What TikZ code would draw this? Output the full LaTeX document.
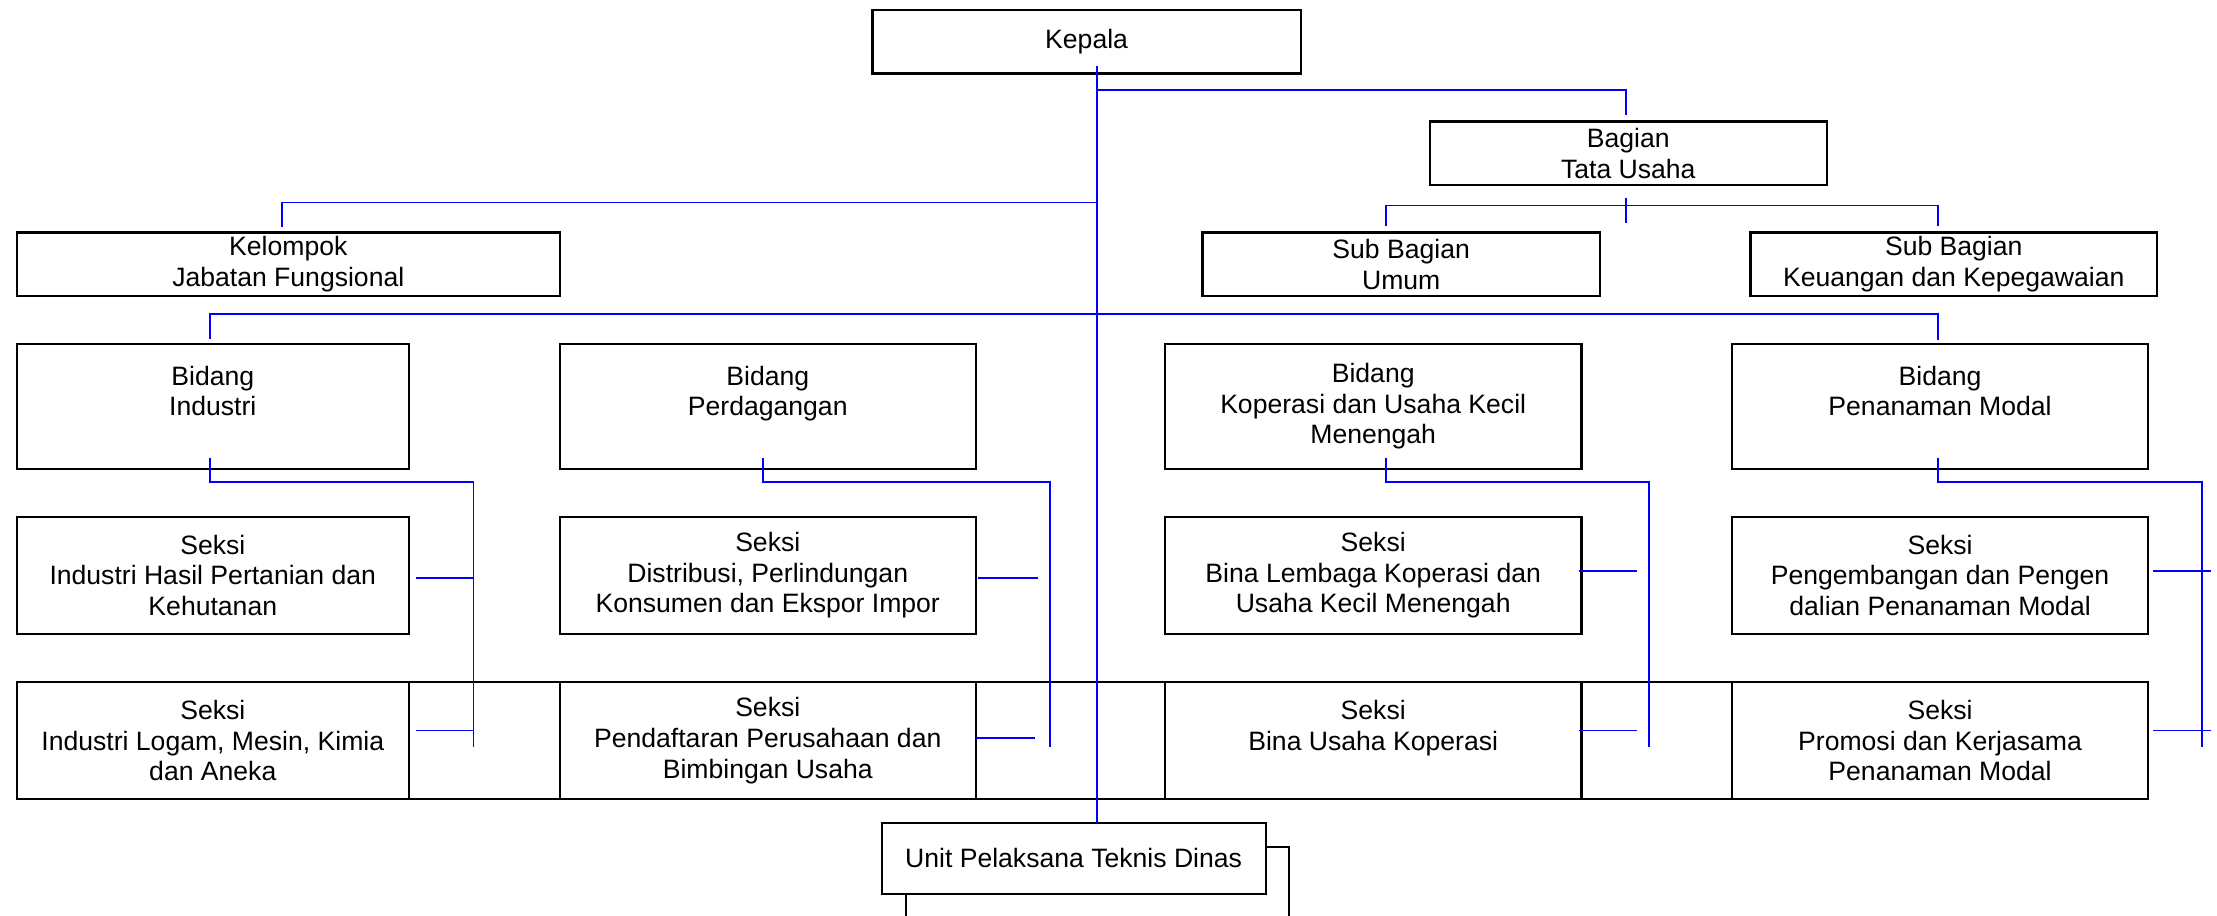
\documentclass[tikz,border=0pt]{standalone}
\usepackage{fontspec}
\setmainfont{Liberation Sans}
\begin{document}
\begin{tikzpicture}[x=1pt,y=-1pt,
  box/.style={draw=black,line width=1.6pt,fill=white,align=center,inner sep=0pt,outer sep=0pt,
    font=\fontsize{18.8}{21.6}\selectfont},
  topbox/.style={box,minimum height=45pt},
  bidbox/.style={box,minimum height=88.3pt},
  sekbox/.style={box,minimum height=83pt},
  frameline/.style={draw=black,line width=1.6pt,line cap=rect},
  conn/.style={draw=blue,line width=1.3pt}]
\path[use as bounding box] (0,0) rectangle (1568,647.8);

% UPT shadow (cut by the page edge)
\begin{scope}
\clip (0,0) rectangle (1568,647.8);
\draw[frameline,line width=1.4pt] (640.7,598.8) rectangle (911.8,670);
\end{scope}

% boxes
\node[topbox,minimum width=303pt] (kepala) at (768.5,29.5) {Kepala};
\node[topbox,minimum width=280.6pt] (bagian) at (1151.6,108.4) {Bagian\\Tata Usaha};
\node[topbox,minimum width=384pt] (kelompok) at (203.9,186.9) {Kelompok\\Jabatan Fungsional};
\node[topbox,minimum width=280.9pt] (sbu) at (991,186.9) {Sub Bagian\\Umum};
\node[topbox,minimum width=287.5pt] (sbk) at (1381.8,186.9) {Sub Bagian\\Keuangan dan Kepegawaian};

\node[bidbox,minimum width=277.3pt] (bi) at (150.5,287.3) {Bidang\\Industri\\\mbox{}};
\node[bidbox,minimum width=294.2pt] (bp) at (543,287.3) {Bidang\\Perdagangan\\\mbox{}};
\node[bidbox,minimum width=294.7pt] (bk) at (971.2,287.3) {Bidang\\Koperasi dan Usaha Kecil\\Menengah};
\node[bidbox,minimum width=294.5pt] (bm) at (1372.1,287.3) {Bidang\\Penanaman Modal\\\mbox{}};

\node[sekbox,minimum width=277.3pt] (s1a) at (150.5,406.9) {Seksi\\Industri Hasil Pertanian dan\\Kehutanan};
\node[sekbox,minimum width=294.2pt] (s1b) at (543,406.9) {Seksi\\Distribusi, Perlindungan\\Konsumen dan Ekspor Impor};
\node[sekbox,minimum width=294.7pt] (s1c) at (971.2,406.9) {Seksi\\Bina Lembaga Koperasi dan\\Usaha Kecil Menengah};
\node[sekbox,minimum width=294.5pt] (s1d) at (1372.1,406.9) {Seksi\\Pengembangan dan Pengen\\dalian Penanaman Modal};

\node[sekbox,minimum width=277.3pt] (s2a) at (150.5,523.8) {Seksi\\Industri Logam, Mesin, Kimia\\dan Aneka};
\node[sekbox,minimum width=294.2pt] (s2b) at (543,523.8) {Seksi\\Pendaftaran Perusahaan dan\\Bimbingan Usaha};
\node[sekbox,minimum width=294.7pt] (s2c) at (971.2,523.8) {Seksi\\Bina Usaha Koperasi\\\mbox{}};
\node[sekbox,minimum width=294.5pt] (s2d) at (1372.1,523.8) {Seksi\\Promosi dan Kerjasama\\Penanaman Modal};

% second row: frame lines across the gaps
\draw[frameline] (s2a.north east) -- (s2b.north west) (s2a.south east) -- (s2b.south west);
\draw[frameline] (s2b.north east) -- (s2c.north west) (s2b.south east) -- (s2c.south west);
\draw[frameline] (s2c.north east) -- (s2d.north west) (s2c.south east) -- (s2d.south west);

\node[box,line width=1.4pt,minimum width=271.5pt,minimum height=50pt] (upt) at (759.3,607) {\raisebox{-4.4pt}{Unit Pelaksana Teknis Dinas}};

% connectors
\coordinate (tk) at (776,46.7);
\coordinate (jb) at (776,63.8);
\coordinate (jk) at (776,143.2);
\draw[conn] (tk) -- (tk |- upt.north);
\draw[conn] (jb) -| ([xshift=-1.6pt,yshift=4.7pt]bagian.north);
\draw[conn] ([xshift=-1.6pt,yshift=-9pt]bagian.south) -- ++(0,17.7);
\draw[conn] ([xshift=-11pt,yshift=4.5pt]sbu.north) -- ++(0,-14.6) -| ([xshift=-11.2pt,yshift=4.5pt]sbk.north);
\draw[conn] ([xshift=-4.5pt,yshift=3.7pt]kelompok.north) |- (jk);
\draw[conn] ([xshift=-2.2pt,yshift=3.4pt]bi.north) -- ++(0,-17.4) -| ([xshift=-1.5pt,yshift=2.9pt]bm.north);

% Bidang Industri
\draw[conn] ([xshift=-2.2pt,yshift=7.4pt]bi.south) -- ++(0,17.1) -- ++(186.6,0) -- ++(0,186.9);
\draw[conn] ([xshift=5pt,yshift=-1.9pt]s1a.east) -- ++(40.7,0);
\draw[conn] ([xshift=5pt,yshift=7.1pt]s2a.east) -- ++(40.7,0);
% Bidang Perdagangan
\draw[conn] ([xshift=-3.2pt,yshift=7.4pt]bp.south) -- ++(0,17.1) -- ++(202.9,0) -- ++(0,186.9);
\draw[conn] ([xshift=1.9pt,yshift=-2.1pt]s1b.east) -- ++(41.8,0);
\draw[conn] ([xshift=0.5pt,yshift=1.6pt]s2b.east) -- ++(41.7,0);
% Bidang Koperasi
\draw[conn] ([xshift=9.3pt,yshift=7.4pt]bk.south) -- ++(0,17.1) -- ++(185.8,0) -- ++(0,186.9);
\draw[conn] ([xshift=-2pt,yshift=3.3pt]s1c.east) -- ++(41.3,0);
\draw[conn] ([xshift=-2pt,yshift=7.1pt]s2c.east) -- ++(41.3,0);
% Bidang Penanaman Modal
\draw[conn] ([xshift=-1.5pt,yshift=7.4pt]bm.south) -- ++(0,17.1) -- ++(186.7,0) -- ++(0,186.9);
\draw[conn] ([xshift=3.6pt,yshift=3.3pt]s1d.east) -- ++(41,0);
\draw[conn] ([xshift=3.6pt,yshift=7.1pt]s2d.east) -- ++(41,0);
\end{tikzpicture}
\end{document}
